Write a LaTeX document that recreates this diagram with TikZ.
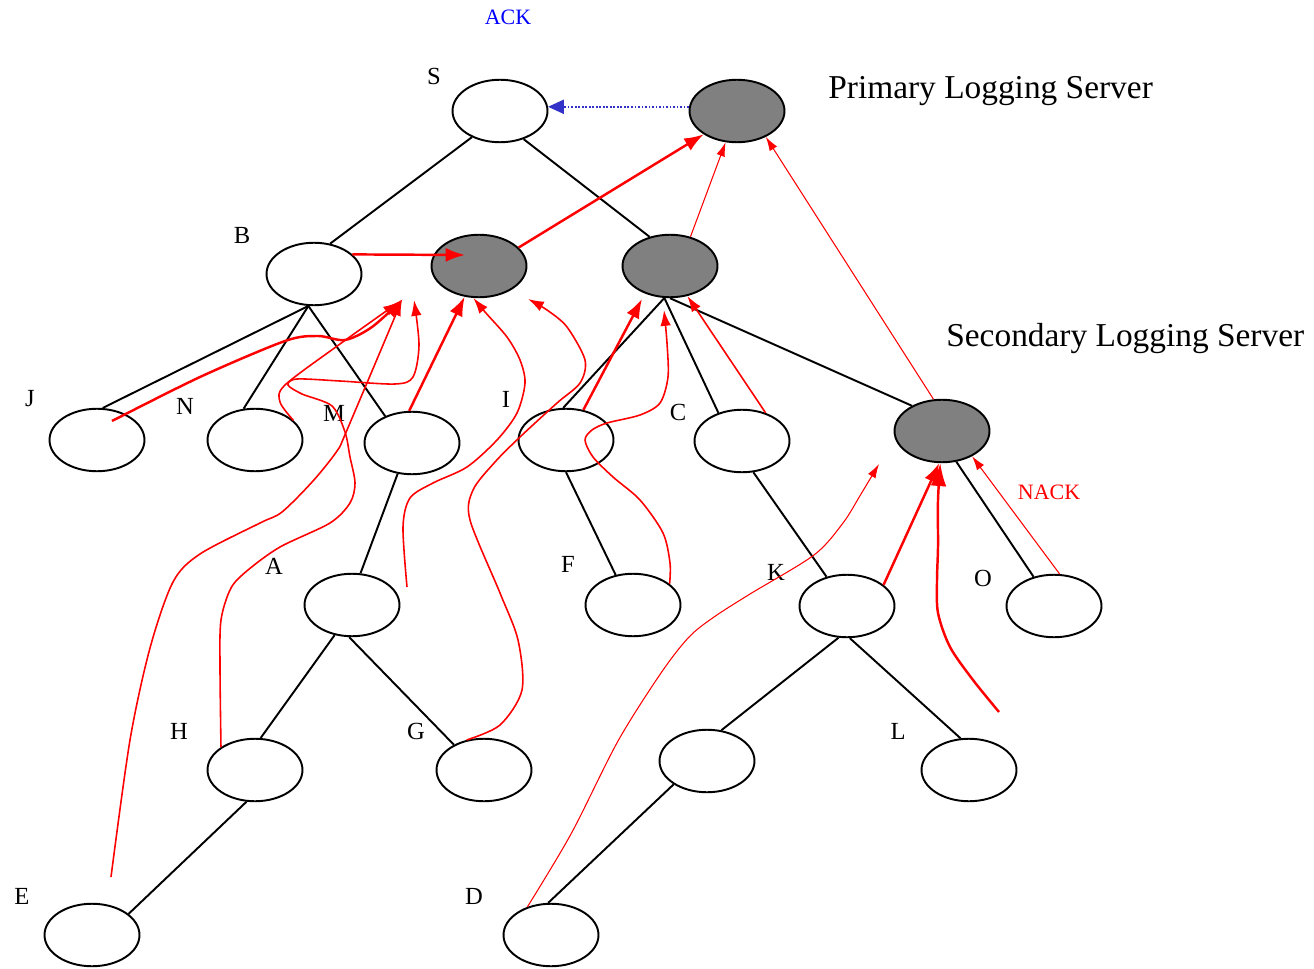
\documentclass[tikz,border=0pt]{standalone}
\usepackage{fontspec}
\setmainfont{Liberation Serif}
\usetikzlibrary{arrows.meta, shapes.geometric}
\definecolor{ackblue}{RGB}{50, 50, 200}
\definecolor{nackred}{RGB}{255, 0, 0}
\definecolor{logfill}{RGB}{128, 128, 128}

\tikzset{
  member/.style={draw, ellipse, line width=1.1pt, fill=white, minimum width=1.9cm, minimum height=1.25cm, inner sep=0pt},
  logger/.style={member, fill=logfill},
  link/.style={line width=1.1pt},
  tag/.style={font=\fontsize{14}{16}\selectfont, inner sep=0pt},
  nack/.style={draw=nackred, line width=0.9pt, -{Latex[length=9pt, width=6pt]}},
  nackthick/.style={nack, line width=1.4pt, -{Latex[length=11pt, width=8pt]}},
  nackthin/.style={nack, line width=0.6pt, -{Latex[length=8pt, width=5pt]}}
}

\begin{document}
\begin{tikzpicture}[x=0.02cm, y=-0.02cm]
  \useasboundingbox (0,0) rectangle (1314,969);

  % Group members and logging servers
  \node[member] (s) at (500,111) {};
  \node[logger] (plog) at (737,111) {};
  \node[member] (b) at (314,274) {};
  \node[logger] (lgb) at (479,266) {};
  \node[logger] (lgc) at (670,266) {};
  \node[logger] (slog) at (942,431) {};
  \node[member] (j) at (97,440) {};
  \node[member] (n) at (255,440) {};
  \node[member] (m) at (412,443) {};
  \node[member] (i) at (566,440) {};
  \node[member] (c) at (742,441) {};
  \node[member] (a) at (352,605) {};
  \node[member] (f) at (633,605) {};
  \node[member] (k) at (847,606) {};
  \node[member] (o) at (1054,606) {};
  \node[member] (h) at (255,770) {};
  \node[member] (g) at (484,770) {};
  \node[member] (u) at (707,761) {};
  \node[member] (l) at (969,770) {};
  \node[member] (e) at (92,935) {};
  \node[member] (d) at (551,935) {};

  % Labels
  \node[tag, font=\fontsize{12.5}{15}\selectfont, text=blue] (tack) at (508,17) {ACK};
  \node[tag] (ts) at (434,76) {S};
  \node[tag] (tb) at (242,235) {B};
  \node[tag] (tj) at (30,399) {J};
  \node[tag] (tn) at (185,406) {N};
  \node[tag] (tm) at (334,413) {M};
  \node[tag] (ti) at (506,399) {I};
  \node[tag] (tc) at (678,412) {C};
  \node[tag] (ta) at (274,566) {A};
  \node[tag] (tf) at (568,564) {F};
  \node[tag] (tk) at (776,572) {K};
  \node[tag] (to) at (983,578) {O};
  \node[tag] (th) at (179,731) {H};
  \node[tag] (tg) at (416,731) {G};
  \node[tag] (tl) at (898,731) {L};
  \node[tag] (te) at (22,896) {E};
  \node[tag] (td) at (474,896) {D};
  \node[tag, font=\fontsize{12.5}{15}\selectfont, text=nackred] (tnack) at (1049,492) {NACK};
  \node[font=\fontsize{19}{22}\selectfont, inner sep=0pt, anchor=base west] (tplog) at (828,99) {Primary Logging Server};
  \node[font=\fontsize{19}{22}\selectfont, inner sep=0pt, anchor=base west] (tslog) at (946,346) {Secondary Logging Server};

  % Tree
  \draw[link] (s.-137) -- (b.62);
  \draw[link] (s.-50) -- (lgc.125);
  \draw[link] (b.-100) -- (j.80);
  \draw[link] (b.-100) -- (n.110);
  \draw[link] (b.-100) -- (m.135);
  \draw[link] (lgc.-100) -- (i.95);
  \draw[link] (lgc.-100) -- (c.130);
  \draw[link] (lgc.-90) -- (slog.140);
  \draw[link] (m.-115) -- (a.75);
  \draw[link] (a.-120) -- (h.80);
  \draw[link] (a.-95) -- (g.140);
  \draw[link] (h.-105) -- (e.30);
  \draw[link] (i.-90) -- (f.120);
  \draw[link] (c.-70) -- (k.125);
  \draw[link] (slog.-65) -- (o.125);
  \draw[link] (k.-105) -- (u.65);
  \draw[link] (k.-85) -- (l.105);
  \draw[link] (u.-145) -- (d.95);

  % Free ends of the NACK paths
  \coordinate (btip) at (465,255);
  \coordinate (jtip) at (403,299);
  \coordinate (ntip) at (399,302);
  \coordinate (htip) at (414,300);
  \coordinate (etip) at (402,300);
  \coordinate (gtip) at (528,299);
  \coordinate (itip) at (642,299);
  \coordinate (ftip) at (664,310);
  \coordinate (dtip) at (879,464);
  \coordinate (jsrc) at (112,421);
  \coordinate (esrc) at (111,877);
  \coordinate (asrc) at (407,587);
  \coordinate (lsrc) at (999,712);

  % ACK from the primary logging server
  \draw[ackblue, line width=1pt, densely dotted, -{Triangle[length=9pt, width=8pt]}] (plog.175) -- (s.5);

  % NACKs up to the logging servers
  \draw[nackthick] (b.27) -- (btip);
  \draw[nackthick] (lgb.25) -- (plog.-145);
  \draw[nackthin] (lgc.55) -- (plog.-110);
  \draw[nackthin] (slog.105) -- (plog.-42);
  \draw[nackthick] plot[smooth] coordinates {(jsrc) (200,377) (285,341) (318,336) (345,340) (372,327) (jtip)};
  \draw[nack] plot[smooth] coordinates {(n.27) (280,402) (285,385) (340,344) (ntip)};
  \draw[nack] plot[smooth] coordinates {(h.146) (220,667) (221,620) (231,588) (248,570) (280,547) (330,523) (350,503) (355,483) (350,457) (345,432) (332,406) (302,394) (288,385) (297,379) (340,381) (395,384) (413,377) (419,345) (htip)};
  \draw[nack] plot[smooth] coordinates {(esrc) (130,740) (150,648) (173,582) (200,554) (260,523) (282,512) (313,481) (337,451) (347,430) (etip)};
  \draw[nackthick] (m.95) -- (lgb.-115);
  \draw[nack] plot[smooth] coordinates {(asrc) (403,527) (410,498) (433,483) (467,467) (497,440) (517,413) (525,383) (520,360) (507,337) (485,312) (lgb.-100)};
  \draw[nack] plot[smooth] coordinates {(g.120) (500,725) (522,690) (518,640) (500,593) (470,520) (473,490) (495,462) (520,437) (557,403) (580,383) (585,360) (567,327) (547,310) (gtip)};
  \draw[nackthick] (i.60) -- (itip);
  \draw[nack] plot[smooth] coordinates {(f.30) (670,563) (663,533) (640,500) (613,477) (593,457) (585,440) (592,430) (607,423) (640,415) (660,403) (668,377) (667,343) (ftip)};
  \draw[nack] (c.50) -- (lgc.-60);
  \draw[nackthin] plot[smooth] coordinates {(d.130) (571,834) (618,741) (661,673) (689,637) (714,617) (750,594) (814,555) (843,523) (861,494) (dtip)};
  \draw[nackthick] (k.30) -- (slog.-95);
  \draw[nackthick, -{Latex[length=13pt, width=9pt]}] plot[smooth] coordinates {(lsrc) (973,680) (950,647) (938,613) (937,580) (938,547) (938,500) (slog.-93)};
  \draw[nackthin] (o.80) -- (slog.-40);
\end{tikzpicture}
\end{document}
